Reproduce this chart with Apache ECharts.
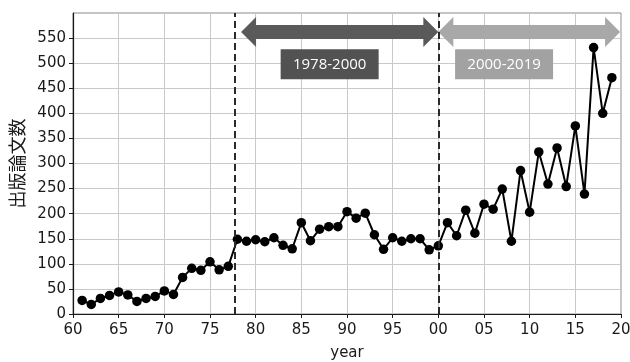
<!DOCTYPE html>
<html>
<head>
<meta charset="utf-8">
<script src="https://cdn.jsdelivr.net/npm/echarts@6/dist/echarts.min.js"></script>
<style>
  html, body { margin: 0; padding: 0; background: #ffffff; }
  #chart { width: 630px; height: 362px; }
</style>
</head>
<body>
<div id="chart"></div>
<script>
// Publication years and yearly paper counts
const years = [
  1961, 1962, 1963, 1964, 1965, 1966, 1967, 1968, 1969, 1970,
  1971, 1972, 1973, 1974, 1975, 1976, 1977, 1978, 1979, 1980,
  1981, 1982, 1983, 1984, 1985, 1986, 1987, 1988, 1989, 1990,
  1991, 1992, 1993, 1994, 1995, 1996, 1997, 1998, 1999, 2000,
  2001, 2002, 2003, 2004, 2005, 2006, 2007, 2008, 2009, 2010,
  2011, 2012, 2013, 2014, 2015, 2016, 2017, 2018, 2019
];
const paperCounts = [
  27, 19, 31, 37, 44, 38, 25, 31, 35, 46,
  39, 73, 91, 87, 104, 88, 95, 149, 145, 148,
  144, 152, 137, 130, 182, 146, 169, 174, 174, 204,
  191, 201, 158, 129, 152, 145, 150, 150, 128, 136,
  182, 156, 207, 161, 219, 209, 249, 145, 286, 203,
  323, 259, 331, 254, 375, 239, 531, 400, 471
];

// Period boundaries (dashed lines)
const periodBreaks = [1977.7, 2000];
// Period arrows: [start, end, level]
const periodArrows = [
  [1978.4, 2000, 562],
  [2000, 2019.9, 562]
];
const arrowColors = ['#5a5a5a', '#a8a8a8'];
// Period labels: [centerYear, level, text]
const periodLabels = [
  [1988.1, 498, '1978-2000'],
  [2007.2, 498, '2000-2019']
];
const labelColors = ['#525252', '#a2a2a2'];

// Axis ticks
const yTicks = [0, 50, 100, 150, 200, 250, 300, 350, 400, 450, 500, 550];

const points = years.map((y, i) => [y, paperCounts[i]]);

const chart = echarts.init(document.getElementById('chart'), null, { renderer: 'canvas' });

const tickFont = { fontFamily: 'DejaVu Sans', fontSize: 15, color: '#1a1a1a' };

chart.setOption({
  animation: false,
  backgroundColor: '#ffffff',
  grid: {
    left: 73, right: 9, top: 13, bottom: 48,
    outerBoundsMode: 'none',
    containLabel: false,
    show: true, borderColor: '#8a8a8a', borderWidth: 1
  },
  xAxis: {
    type: 'value', min: 1960, max: 2020, interval: 5,
    name: 'year', nameLocation: 'middle', nameGap: 32,
    nameTextStyle: { fontFamily: 'DejaVu Sans', fontSize: 15, color: '#1a1a1a' },
    axisLine: { show: true, lineStyle: { color: '#1a1a1a', width: 1.2 } },
    axisTick: { show: true, length: 4, lineStyle: { color: '#1a1a1a' } },
    axisLabel: Object.assign({
      margin: 9,
      formatter: v => String(v % 100).padStart(2, '0')
    }, tickFont),
    splitLine: { show: true, lineStyle: { color: '#c9c9c9', width: 1 } }
  },
  yAxis: {
    type: 'value', min: 0, max: 600, interval: 50,
    name: '出版論文数', nameLocation: 'middle', nameGap: 46,
    nameTextStyle: { fontFamily: 'Noto Sans CJK JP', fontSize: 18, color: '#1a1a1a' },
    axisLine: { show: true, lineStyle: { color: '#1a1a1a', width: 1.2 } },
    axisTick: { show: true, length: 4, customValues: yTicks, lineStyle: { color: '#1a1a1a' } },
    axisLabel: Object.assign({ margin: 7, customValues: yTicks }, tickFont),
    splitLine: { show: true, lineStyle: { color: '#c9c9c9', width: 1 } }
  },
  series: [
    {
      type: 'custom',
      z: 3,
      data: periodArrows.map((a, i) => [a[0], a[1], a[2], i]),
      encode: { x: [0, 1], y: 2 },
      renderItem: (params, api) => {
        const p0 = api.coord([api.value(0), api.value(2)]);
        const p1 = api.coord([api.value(1), api.value(2)]);
        const head = 15, headHalf = 15, bodyHalf = 7;
        const y = p0[1], xa = p0[0], xb = p1[0];
        const pts = [
          [xa, y],
          [xa + head, y - headHalf],
          [xa + head, y - bodyHalf],
          [xb - head, y - bodyHalf],
          [xb - head, y - headHalf],
          [xb, y],
          [xb - head, y + headHalf],
          [xb - head, y + bodyHalf],
          [xa + head, y + bodyHalf],
          [xa + head, y + headHalf]
        ];
        return {
          type: 'polygon',
          shape: { points: pts },
          style: { fill: arrowColors[api.value(3)] }
        };
      }
    },
    {
      type: 'custom',
      z: 3,
      data: periodLabels.map((l, i) => [l[0], l[1], i]),
      encode: { x: 0, y: 1 },
      renderItem: (params, api) => {
        const c = api.coord([api.value(0), api.value(1)]);
        const idx = api.value(2);
        const w = 98, h = 30;
        return {
          type: 'group',
          children: [
            {
              type: 'rect',
              shape: { x: c[0] - w / 2, y: c[1] - h / 2, width: w, height: h },
              style: { fill: labelColors[idx] }
            },
            {
              type: 'text',
              x: c[0], y: c[1] + 1,
              style: {
                text: periodLabels[idx][2],
                fill: '#ffffff',
                font: '15px "Open Sans"',
                align: 'center',
                verticalAlign: 'middle'
              }
            }
          ]
        };
      }
    },
    {
      type: 'line',
      z: 4,
      data: points,
      symbol: 'circle',
      symbolSize: 9.5,
      lineStyle: { color: '#000000', width: 2 },
      itemStyle: { color: '#000000' },
      markLine: {
        silent: true,
        symbol: 'none',
        label: { show: false },
        lineStyle: { color: '#2a2a2a', width: 2, type: [7, 4] },
        data: periodBreaks.map(x => ({ xAxis: x }))
      }
    }
  ]
});
</script>
</body>
</html>
